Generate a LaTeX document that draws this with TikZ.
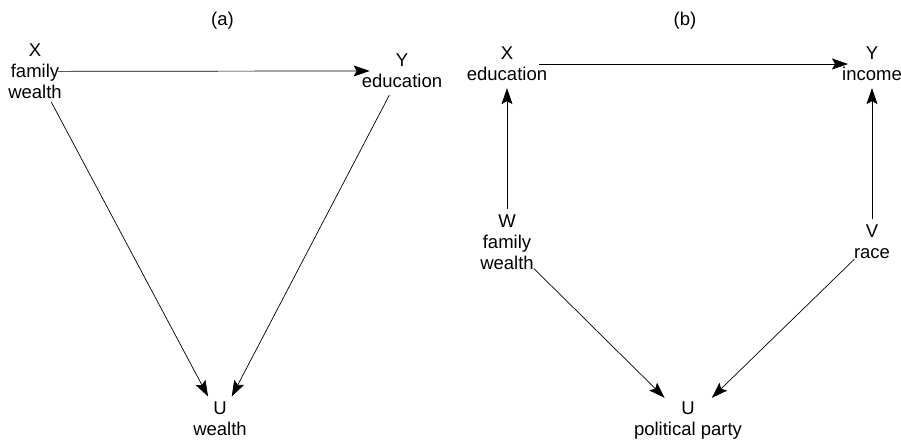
\documentclass[tikz,border=0pt]{standalone}
\usepackage{fontspec}
\setmainfont{Liberation Sans}
\usetikzlibrary{arrows.meta}
\tikzset{
  var/.style={inner sep=0pt, align=center, font=\fontsize{18.5}{21}\selectfont},
  causal/.style={line width=0.7pt, -{Stealth[length=16pt,width=11pt,inset=3pt]}}
}
\begin{document}
\begin{tikzpicture}[x=1pt,y=-1pt]
\useasboundingbox (0,0) rectangle (901,441);
% panel (a)
\node[var] (taga) at (222.5,20.5) {(a)};
\node[var] (xa) at (35,71.4) {X\\family\\wealth};
\node[var] (ya) at (402,70.9) {Y\\education};
\node[var] (ua) at (220,419) {U\\wealth};
\draw[causal, shorten <=-4pt, shorten >=-8pt] (xa) -- (ya);
\draw[causal, shorten <=3pt, shorten >=6pt] (xa) -- (ua);
\draw[causal, shorten <=8pt, shorten >=6pt] (ya) -- (ua);
% panel (b)
\node[var] (tagb) at (685,20.5) {(b)};
\node[var] (xb) at (507,64) {X\\education};
\node[var] (yb) at (872,64) {Y\\income};
\node[var] (wb) at (507,242) {W\\family\\wealth};
\node[var] (vb) at (872,242) {V\\race};
\node[var] (ub) at (688,421) {U\\political party};
\draw[causal, shorten <=-8pt, shorten >=-6pt] (xb) -- (yb);
\draw[causal, shorten <=5pt, shorten >=7pt] (wb) -- (xb);
\draw[causal, shorten <=6pt, shorten >=7pt] (vb) -- (yb);
\draw[causal, shorten >=6pt] (wb) -- (ub);
\draw[causal, shorten >=6pt] (vb) -- (ub);
\end{tikzpicture}
\end{document}
